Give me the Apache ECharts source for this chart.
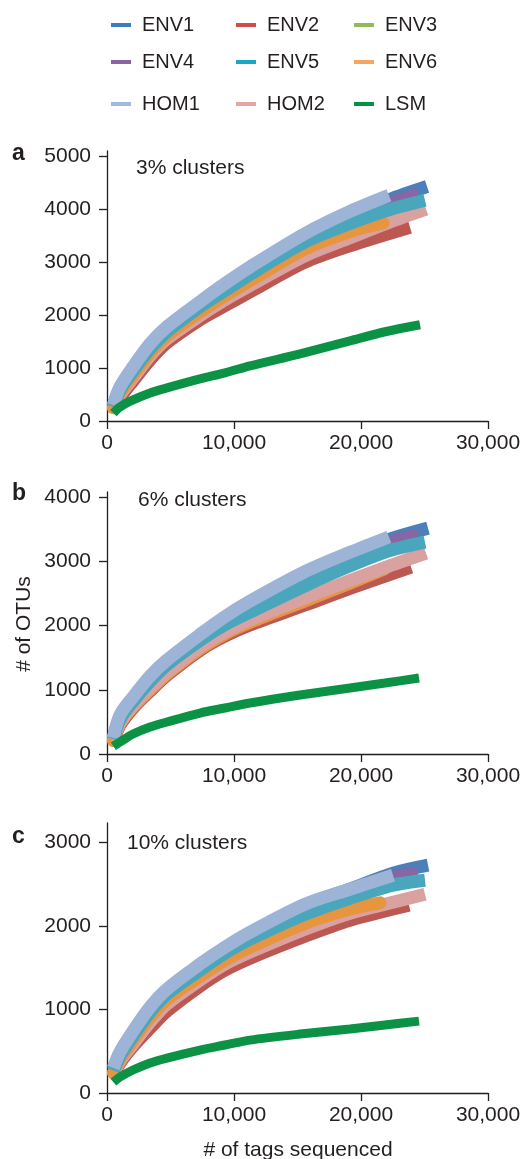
<!DOCTYPE html>
<html><head><meta charset="utf-8">
<script src="https://cdn.jsdelivr.net/npm/echarts@6/dist/echarts.min.js"></script>
<style>html,body{margin:0;padding:0;background:#fff}#c{width:525px;height:1159px}</style>
</head><body><div id="c"></div>
<script>
// ---------- data ----------
const seriesNames = ['ENV1','ENV2','ENV3','ENV4','ENV5','ENV6','HOM1','HOM2','LSM'];
const panelTitles = ['3% clusters','6% clusters','10% clusters'];
const panelLetters = ['a','b','c'];
const xTicks = [0,10000,20000,30000];
const yTicksA = [0,1000,2000,3000,4000,5000];
const yTicksB = [0,1000,2000,3000,4000];
const yTicksC = [0,1000,2000,3000];

// panel a: 3% clusters  [tags sequenced, OTUs]
const a_ENV1 = [[500,290],[1020,625],[2050,985],[3390,1421],[4720,1742],[7320,2216],[9290,2538],[11260,2850],[15590,3480],[19130,3880],[22200,4180],[25200,4430]];
const a_ENV2 = [[500,200],[1020,436],[2050,758],[3390,1155],[4720,1477],[7320,1913],[9290,2178],[11260,2440],[15590,3000],[19130,3310],[23860,3660]];
const a_ENV3 = [[500,210],[1020,474],[2050,795],[3390,1193],[4720,1515],[7320,1970],[9290,2235],[11260,2520],[15590,3080],[19130,3400],[23620,3780]];
const a_ENV4 = [[500,280],[1020,606],[2050,966],[3390,1402],[4720,1724],[7320,2178],[9290,2519],[11260,2810],[15590,3430],[19130,3820],[22200,4100],[24490,4290]];
const a_ENV5 = [[500,270],[1020,587],[2050,947],[3390,1364],[4720,1686],[7320,2159],[9290,2462],[11260,2770],[15590,3380],[19130,3730],[22200,3990],[25040,4170]];
const a_ENV6 = [[500,250],[1020,530],[2050,871],[3390,1288],[4720,1610],[7320,2064],[9290,2368],[11260,2650],[15590,3250],[19130,3580],[21730,3740]];
const a_HOM1 = [[500,300],[1020,644],[2050,1023],[3390,1458],[4720,1780],[7320,2254],[9290,2595],[11260,2910],[15590,3540],[19130,3958],[22200,4262]];
const a_HOM2 = [[500,230],[1020,492],[2050,814],[3390,1231],[4720,1553],[7320,1989],[9290,2292],[11260,2560],[15590,3120],[19130,3460],[22200,3750],[25120,4000]];
const a_LSM  = [[500,150],[1020,265],[2050,398],[3390,530],[4720,625],[7320,795],[9290,909],[11260,1042],[15200,1269],[19130,1515],[21890,1686],[24650,1818]];

// panel b: 6% clusters
const b_ENV1 = [[500,240],[1020,576],[2050,856],[3390,1183],[4720,1432],[7320,1830],[9290,2110],[11260,2340],[15590,2800],[19130,3100],[22200,3340],[25280,3517]];
const b_ENV2 = [[500,200],[1020,450],[2050,715],[3390,980],[4720,1225],[7320,1615],[9290,1837],[11260,2010],[15590,2320],[19130,2580],[23940,2910]];
const b_ENV3 = [[500,210],[1020,465],[2050,730],[3390,995],[4720,1240],[7320,1630],[9290,1860],[11260,2040],[15590,2370],[19130,2640],[23070,2880]];
const b_ENV4 = [[500,235],[1020,560],[2050,840],[3390,1152],[4720,1416],[7320,1800],[9290,2075],[11260,2300],[15590,2750],[19130,3050],[22200,3290],[24490,3410]];
const b_ENV5 = [[500,230],[1020,540],[2050,820],[3390,1130],[4720,1390],[7320,1770],[9290,2015],[11260,2210],[15590,2620],[19130,2930],[22200,3165],[25040,3300]];
const b_ENV6 = [[500,210],[1020,470],[2050,735],[3390,1000],[4720,1245],[7320,1635],[9290,1870],[11260,2050],[15590,2385],[19130,2660],[21810,2880]];
const b_HOM1 = [[500,250],[1020,607],[2050,887],[3390,1214],[4720,1463],[7320,1860],[9290,2140],[11260,2380],[15590,2840],[19130,3140],[22200,3380]];
const b_HOM2 = [[500,220],[1020,490],[2050,760],[3390,1030],[4720,1270],[7320,1665],[9290,1900],[11260,2090],[15590,2430],[19130,2700],[22200,2926],[25120,3128]];
const b_LSM  = [[500,120],[1020,187],[2050,311],[3390,420],[4720,498],[7320,638],[9290,716],[11260,794],[15200,918],[19130,1027],[21890,1105],[24570,1183]];

// panel c: 10% clusters
const c_ENV1 = [[500,290],[1020,478],[2050,729],[3390,1016],[4720,1231],[7320,1530],[9290,1733],[11260,1912],[15590,2247],[19130,2438],[22520,2629],[25280,2725]];
const c_ENV2 = [[500,210],[1020,359],[2050,560],[3390,777],[4720,980],[7320,1279],[9290,1470],[11260,1613],[15590,1876],[19130,2067],[23780,2247]];
const c_ENV3 = [[500,230],[1020,382],[2050,574],[3390,837],[4720,1040],[7320,1326],[9290,1518],[11260,1661],[15590,1936],[19130,2115],[23620,2294]];
const c_ENV4 = [[500,280],[1020,466],[2050,705],[3390,992],[4720,1207],[7320,1506],[9290,1709],[11260,1888],[15590,2211],[19130,2402],[22520,2581],[24490,2629]];
const c_ENV5 = [[500,270],[1020,442],[2050,681],[3390,968],[4720,1183],[7320,1470],[9290,1673],[11260,1840],[15590,2139],[19130,2330],[22520,2486],[25040,2545]];
const c_ENV6 = [[500,240],[1020,406],[2050,633],[3390,908],[4720,1123],[7320,1398],[9290,1589],[11260,1745],[15590,2030],[19130,2200],[21500,2275]];
const c_HOM1 = [[500,300],[1020,490],[2050,741],[3390,1028],[4720,1243],[7320,1542],[9290,1745],[11260,1924],[15590,2259],[19130,2438],[22520,2605]];
const c_HOM2 = [[500,230],[1020,382],[2050,586],[3390,848],[4720,1064],[7320,1350],[9290,1542],[11260,1685],[15590,1960],[19130,2151],[22520,2282],[25040,2378]];
const c_LSM  = [[500,130],[1020,191],[2050,275],[3390,359],[4720,418],[7320,514],[9290,574],[11260,633],[15200,705],[19130,765],[21890,813],[24570,860]];

// ---------- styles ----------
const lineColor = {ENV1:'#4d80bb',ENV2:'#bd5751',ENV3:'#94b95c',ENV4:'#8767a3',ENV5:'#4aa6bd',ENV6:'#e8953f',HOM1:'#9db4d6',HOM2:'#d9a19f',LSM:'#0c9245'};
const legendColor = {ENV1:'#3d7dbf',ENV2:'#cc4d4c',ENV3:'#93bb5a',ENV4:'#8a63a6',ENV5:'#17a8c3',ENV6:'#f3a862',HOM1:'#a0b9dc',HOM2:'#e6a3a2',LSM:'#009245'};
const TXT = '#231f20';
const FONT = 'Liberation Sans, Arial, Helvetica, sans-serif';

const panels = [
  {data:{ENV1:a_ENV1,ENV2:a_ENV2,ENV3:a_ENV3,ENV4:a_ENV4,ENV5:a_ENV5,ENV6:a_ENV6,HOM1:a_HOM1,HOM2:a_HOM2,LSM:a_LSM},
   order:['ENV3','ENV2','HOM2','ENV6','ENV1','ENV4','ENV5','HOM1','LSM'], yTicks:yTicksA, ymax:5100,
   grid:{top:151,bottom:738}, letterY:154, titleX:136, titleY:168},
  {data:{ENV1:b_ENV1,ENV2:b_ENV2,ENV3:b_ENV3,ENV4:b_ENV4,ENV5:b_ENV5,ENV6:b_ENV6,HOM1:b_HOM1,HOM2:b_HOM2,LSM:b_LSM},
   order:['ENV3','ENV2','ENV6','HOM2','ENV1','ENV4','ENV5','HOM1','LSM'], yTicks:yTicksB, ymax:4080,
   grid:{top:492,bottom:405}, letterY:494, titleX:138, titleY:500},
  {data:{ENV1:c_ENV1,ENV2:c_ENV2,ENV3:c_ENV3,ENV4:c_ENV4,ENV5:c_ENV5,ENV6:c_ENV6,HOM1:c_HOM1,HOM2:c_HOM2,LSM:c_LSM},
   order:['ENV3','ENV2','HOM2','ENV6','ENV1','ENV4','ENV5','HOM1','LSM'], yTicks:yTicksC, ymax:3230,
   grid:{top:823,bottom:66}, letterY:837, titleX:127, titleY:843}
];

const fmtX = v => String(v).replace(/\B(?=(\d{3})+(?!\d))/g, ',');
const fmtY = v => String(v);
const axisLineStyle = {color:TXT, width:1.3};

const grids = [], xAxes = [], yAxes = [], series = [], graphics = [];
panels.forEach((p, i) => {
  grids.push({left:107, right:37, top:p.grid.top, bottom:p.grid.bottom, containLabel:false, outerBoundsMode:'none'});
  xAxes.push({type:'value', gridIndex:i, min:0, max:30000, interval:10000,
    axisLine:{show:true, lineStyle:axisLineStyle},
    axisTick:{show:true, length:8, lineStyle:axisLineStyle, customValues:xTicks},
    axisLabel:{fontSize:21, color:TXT, fontFamily:FONT, margin:12, formatter:fmtX, customValues:xTicks},
    splitLine:{show:false}});
  yAxes.push({type:'value', gridIndex:i, min:0, max:p.ymax, interval:1000,
    axisLine:{show:true, lineStyle:axisLineStyle},
    axisTick:{show:true, length:8, lineStyle:axisLineStyle, customValues:p.yTicks},
    axisLabel:{fontSize:21, color:TXT, fontFamily:FONT, margin:16, formatter:fmtY, customValues:p.yTicks},
    splitLine:{show:false}});
  p.order.forEach(name => {
    series.push({type:'line', name, xAxisIndex:i, yAxisIndex:i, data:p.data[name],
      showSymbol:false, symbol:'none', smooth:0.3, silent:true,
      itemStyle:{color:lineColor[name]},
      lineStyle:{width: name==='LSM'?9:13, color:lineColor[name], cap: name==='ENV6'?'round':'butt'}});
  });
  graphics.push({type:'text', x:12, y:p.letterY, style:{text:panelLetters[i], font:'bold 23px '+FONT, fill:TXT, textAlign:'left', textVerticalAlign:'middle'}});
  graphics.push({type:'text', x:p.titleX, y:p.titleY, style:{text:panelTitles[i], font:'21px '+FONT, fill:TXT, textAlign:'left', textVerticalAlign:'middle'}});
});
graphics.push({type:'text', x:24, y:624, rotation:Math.PI/2, style:{text:'# of OTUs', font:'21px '+FONT, fill:TXT, textAlign:'center', textVerticalAlign:'middle'}});
graphics.push({type:'text', x:298, y:1150, style:{text:'# of tags sequenced', font:'21px '+FONT, fill:TXT, textAlign:'center', textVerticalAlign:'middle'}});

const legendCols = [111, 236, 354];
const legendRows = [15, 52, 94];
const legends = seriesNames.map((name, k) => ({
  left:legendCols[k % 3], top:legendRows[Math.floor(k / 3)], padding:0, orient:'horizontal',
  icon:'rect', itemWidth:20, itemHeight:4, itemGap:0, selectedMode:false,
  data:[{name, itemStyle:{color:legendColor[name]}}],
  textStyle:{fontSize:20, color:TXT, fontFamily:FONT, padding:[0,0,0,6]}
}));

const chart = echarts.init(document.getElementById('c'), null, {renderer:'canvas'});
chart.setOption({
  animation:false, backgroundColor:'#fff',
  legend:legends, grid:grids, xAxis:xAxes, yAxis:yAxes, series, graphic:graphics
});
</script></body></html>
